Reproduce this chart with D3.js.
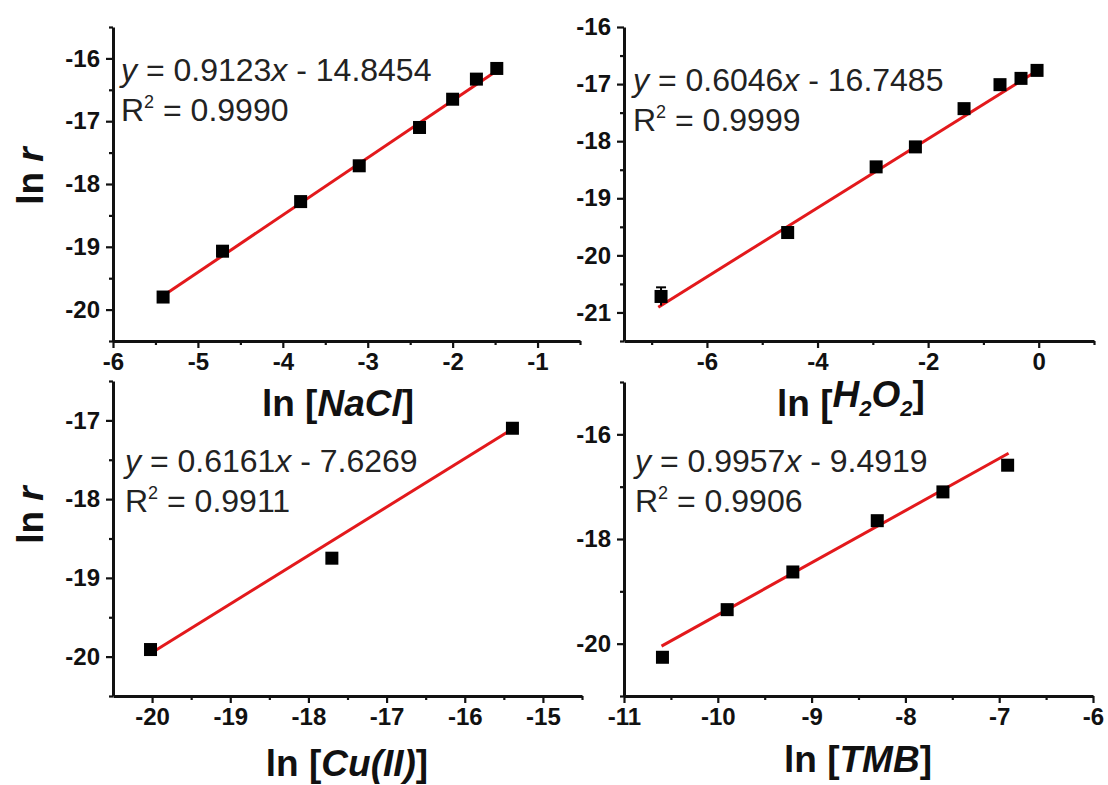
<!DOCTYPE html>
<html>
<head>
<meta charset="utf-8">
<script src="https://cdn.jsdelivr.net/npm/d3@7"></script>
<style>
  body { margin: 0; background: #fff; }
  svg { display: block; font-family: "Liberation Sans", Arial, sans-serif; }
</style>
</head>
<body>
<script>
// values
const naclX = [-5.41, -4.71, -3.79, -3.10, -2.39, -2.00, -1.72, -1.48];
const naclY = [-19.80, -19.07, -18.28, -17.71, -17.10, -16.65, -16.33, -16.16];
const naclErr = [0.06, 0.03, 0.03, 0.03, 0.04, 0.03, 0.03, 0.03];

const h2o2X = [-6.83, -4.54, -2.94, -2.23, -1.35, -0.70, -0.32, -0.03];
const h2o2Y = [-20.72, -19.60, -18.45, -18.10, -17.43, -17.01, -16.90, -16.76];
const h2o2Err = [0.16, 0.04, 0.04, 0.03, 0.04, 0.04, 0.04, 0.04];

const cuX = [-20.02, -17.70, -15.39];
const cuY = [-19.91, -18.75, -17.10];
const cuErr = [0.04, 0.03, 0.04];

const tmbX = [-10.59, -9.90, -9.20, -8.30, -7.60, -6.91];
const tmbY = [-20.26, -19.35, -18.63, -17.65, -17.10, -16.59];
const tmbErr = [0.04, 0.04, 0.04, 0.04, 0.04, 0.04];

// linear fits as printed on the chart
const fitSlope = [0.9123, 0.6046, 0.6161, 0.9957];
const fitIntercept = [-14.8454, -16.7485, -7.6269, -9.4919];
const fitXRange = [[-5.41, -1.48], [-6.88, 0], [-20.02, -15.39], [-10.6, -6.9]];
const fitR2 = ["0.9990", "0.9999", "0.9911", "0.9906"];

// axis domains and ticks
const xDomains = [[-6, -0.5], [-7.5, 1], [-20.5, -14.5], [-11, -6]];
const yDomains = [[-20.5, -15.5], [-21.5, -16], [-20.5, -16.5], [-21, -15]];
const xTicks = [[-6, -5, -4, -3, -2, -1], [-6, -4, -2, 0], [-20, -19, -18, -17, -16, -15], [-11, -10, -9, -8, -7, -6]];
const xMinor = [[-5.5, -4.5, -3.5, -2.5, -1.5, -0.5], [-7, -5, -3, -1, 1], [-19.5, -18.5, -17.5, -16.5, -15.5, -14.5], [-10.5, -9.5, -8.5, -7.5, -6.5]];
const yTicks = [[-20, -19, -18, -17, -16], [-21, -20, -19, -18, -17, -16], [-20, -19, -18, -17], [-20, -18, -16]];
const yMinor = [[-20.5, -19.5, -18.5, -17.5, -16.5, -15.5], [-21.5, -20.5, -19.5, -18.5, -17.5, -16.5], [-20.5, -19.5, -18.5, -17.5, -16.5], [-21, -19, -17, -15]];
const xTitles = [["NaCl"], ["H", "2", "O", "2"], ["Cu(II)"], ["TMB"]];

const w = 1108;
const h = 785;
const red = "#e3191c";

// panel boxes in pixels
const boxes = [
  {left: 113, right: 580, top: 27, bottom: 341, eqX: 121, eqY: 81, titleX: 338, titleY: 416},
  {left: 624, right: 1094, top: 27, bottom: 341, eqX: 633, eqY: 91, titleX: 851, titleY: 416},
  {left: 113, right: 582, top: 381, bottom: 696, eqX: 125, eqY: 472, titleX: 347, titleY: 776},
  {left: 624, right: 1093, top: 382, bottom: 696, eqX: 635, eqY: 472, titleX: 858, titleY: 772}
];

const series = [
  {x: naclX, y: naclY, e: naclErr},
  {x: h2o2X, y: h2o2Y, e: h2o2Err},
  {x: cuX, y: cuY, e: cuErr},
  {x: tmbX, y: tmbY, e: tmbErr}
];

const svg = d3.select("body")
  .append("svg")
  .attr("width", w)
  .attr("height", h);

const fmt = d => String(d);

function drawPanel(i) {
  const b = boxes[i];
  const s = series[i];
  const g = svg.append("g");

  const xScale = d3.scaleLinear().domain(xDomains[i]).range([b.left, b.right]);
  const yScale = d3.scaleLinear().domain(yDomains[i]).range([b.bottom, b.top]);

  // minor ticks
  const xm = g.append("g")
    .attr("transform", "translate(0," + b.bottom + ")")
    .call(d3.axisBottom(xScale).tickValues(xMinor[i]).tickSize(4).tickFormat(""));
  xm.select(".domain").remove();
  const ym = g.append("g")
    .attr("transform", "translate(" + b.left + ",0)")
    .call(d3.axisLeft(yScale).tickValues(yMinor[i]).tickSize(4).tickFormat(""));
  ym.select(".domain").remove();

  // major ticks
  g.append("g")
    .attr("class", "axis")
    .attr("transform", "translate(0," + b.bottom + ")")
    .call(d3.axisBottom(xScale).tickValues(xTicks[i]).tickSize(7).tickSizeOuter(0).tickPadding(5).tickFormat(fmt));
  g.append("g")
    .attr("class", "axis")
    .attr("transform", "translate(" + b.left + ",0)")
    .call(d3.axisLeft(yScale).tickValues(yTicks[i]).tickSize(7).tickSizeOuter(0).tickPadding(6).tickFormat(fmt));

  g.selectAll(".domain").attr("stroke-width", 3).attr("stroke", "#111");
  g.selectAll(".tick line").attr("stroke-width", 2.2).attr("stroke", "#111");
  g.selectAll(".axis text")
    .attr("font-size", 24)
    .attr("font-weight", "bold")
    .attr("fill", "#111")
    .attr("font-family", "Liberation Sans, Arial, sans-serif");

  // fit line
  const fx = fitXRange[i];
  g.append("line")
    .attr("x1", xScale(fx[0]))
    .attr("y1", yScale(fitSlope[i] * fx[0] + fitIntercept[i]))
    .attr("x2", xScale(fx[1]))
    .attr("y2", yScale(fitSlope[i] * fx[1] + fitIntercept[i]))
    .attr("stroke", red)
    .attr("stroke-width", 3);

  const pts = s.x.map((v, k) => ({x: v, y: s.y[k], e: s.e[k]}));

  // error bars
  const eb = g.selectAll(".err").data(pts).enter().append("g").attr("class", "err");
  eb.append("line")
    .attr("x1", d => xScale(d.x)).attr("x2", d => xScale(d.x))
    .attr("y1", d => yScale(d.y - d.e)).attr("y2", d => yScale(d.y + d.e))
    .attr("stroke", "#000").attr("stroke-width", 2);
  eb.append("line")
    .attr("x1", d => xScale(d.x) - 5).attr("x2", d => xScale(d.x) + 5)
    .attr("y1", d => yScale(d.y + d.e)).attr("y2", d => yScale(d.y + d.e))
    .attr("stroke", "#000").attr("stroke-width", 2);

  // square markers
  g.selectAll(".dot")
    .data(pts)
    .enter()
    .append("rect")
    .attr("class", "dot")
    .attr("x", d => xScale(d.x) - 6.5)
    .attr("y", d => yScale(d.y) - 6.5)
    .attr("width", 13)
    .attr("height", 13)
    .attr("fill", "#000");

  // equation
  const sign = fitIntercept[i] < 0 ? " - " : " + ";
  const eq = g.append("text")
    .attr("x", b.eqX)
    .attr("y", b.eqY)
    .attr("font-size", 32)
    .attr("fill", "#222");
  eq.append("tspan").attr("font-style", "italic").text("y");
  eq.append("tspan").text(" = " + fitSlope[i].toFixed(4));
  eq.append("tspan").attr("font-style", "italic").text("x");
  eq.append("tspan").text(sign + Math.abs(fitIntercept[i]).toFixed(4));

  const r2 = g.append("text")
    .attr("x", b.eqX)
    .attr("y", b.eqY + 40)
    .attr("font-size", 32)
    .attr("fill", "#222");
  r2.append("tspan").text("R");
  r2.append("tspan").attr("font-size", 18).attr("dy", -13).text("2");
  r2.append("tspan").attr("dy", 13).text(" = " + fitR2[i]);

  // x title
  const t = g.append("text")
    .attr("x", b.titleX)
    .attr("y", b.titleY)
    .attr("text-anchor", "middle")
    .attr("font-size", 37)
    .attr("font-weight", "bold")
    .attr("fill", "#111");
  t.append("tspan").text("ln [");
  const parts = xTitles[i];
  if (parts.length === 1) {
    t.append("tspan").attr("font-style", "italic").text(parts[0]);
  } else {
    parts.forEach(p => {
      if (p === "2") {
        t.append("tspan").attr("font-style", "italic").attr("font-size", 22).attr("dy", 9).text(p);
      } else {
        t.append("tspan").attr("font-style", "italic").attr("dy", t.selectAll("tspan").size() > 1 ? -9 : 0).text(p);
      }
    });
  }
  t.append("tspan").attr("dy", parts.length > 1 ? -9 : 0).text("]");
}

[0, 1, 2, 3].forEach(drawPanel);

// y titles
[{x: 43, y: 176}, {x: 43, y: 515}].forEach(p => {
  const t = svg.append("text")
    .attr("transform", "translate(" + p.x + "," + p.y + ") rotate(-90)")
    .attr("text-anchor", "middle")
    .attr("font-size", 37)
    .attr("font-weight", "bold")
    .attr("fill", "#111");
  t.append("tspan").text("ln ");
  t.append("tspan").attr("font-style", "italic").text("r");
});
</script>
</body>
</html>
